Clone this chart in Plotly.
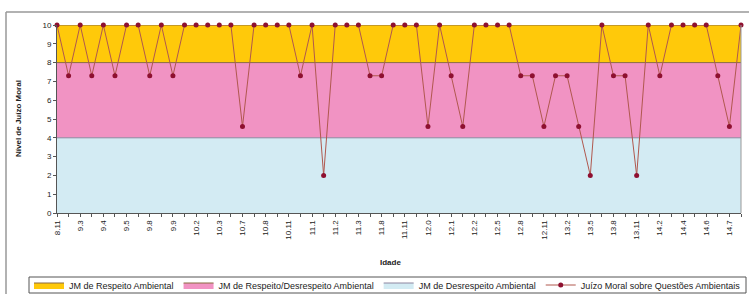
import plotly.graph_objects as go

# ---- data ----
tick_labels = ["8.11", "9.3", "9.4", "9.5", "9.8", "9.9", "10.2", "10.3", "10.7", "10.8",
               "10.11", "11.1", "11.2", "11.3", "11.8", "11.11", "12.0", "12.1", "12.2", "12.5",
               "12.8", "12.11", "13.2", "13.5", "13.8", "13.11", "14.2", "14.4", "14.6", "14.7"]

juizo_moral = [10, 7.3, 10, 7.3, 10, 7.3, 10, 10, 7.3, 10,
               7.3, 10, 10, 10, 10, 10, 4.6, 10, 10, 10,
               10, 7.3, 10, 2, 10, 10, 10, 7.3, 7.3, 10,
               10, 10, 4.6, 10, 7.3, 4.6, 10, 10, 10, 10,
               7.3, 7.3, 4.6, 7.3, 7.3, 4.6, 2, 10, 7.3, 7.3,
               2, 10, 7.3, 10, 10, 10, 10, 7.3, 4.6, 10]

band_names = ["JM de Desrespeito Ambiental", "JM de Respeito/Desrespeito Ambiental", "JM de Respeito Ambiental"]
band_tops = [4, 8, 10]
band_colors = ["#D3EBF3", "#F193C3", "#FFC90A"]
band_lines = ["#8E86A0", "#8A6A40", "#8A6A40"]
line_name = "Juízo Moral sobre Questões Ambientais"

n = len(juizo_moral)
x = list(range(n))

fig = go.Figure()
prev = 0
ranks = [3, 2, 1]
for name, top, col, lc, rk in zip(band_names, band_tops, band_colors, band_lines, ranks):
    fig.add_trace(go.Scatter(
        x=x, y=[top - prev] * n, name=name, stackgroup="bands",
        mode="lines", line=dict(color=lc, width=1), fillcolor=col,
        legendrank=rk, hoverinfo="skip"))
    prev = top

fig.add_trace(go.Scatter(
    x=x, y=juizo_moral, name=line_name, mode="lines+markers",
    line=dict(color="#B0584E", width=1),
    marker=dict(symbol="circle", size=5, color="#8E1030"),
    cliponaxis=False, legendrank=4))

tickvals = x
ticktext = [tick_labels[i // 2] if i % 2 == 0 and i // 2 < len(tick_labels) else "" for i in x]

L, R, T, B = 57, 9, 25, 81
W, H = 750, 294
pw, ph = W - L - R, H - T - B

def px(v):
    return (v - L) / pw

def py(v):
    return (H - B - v) / ph

fig.update_layout(
    width=W, height=H,
    margin=dict(l=L, r=R, t=T, b=B, autoexpand=False),
    paper_bgcolor="white", plot_bgcolor="white",
    font=dict(family="Liberation Sans, Arial, sans-serif", size=8, color="#222"),
    showlegend=True,
    legend=dict(orientation="h", x=px(29), y=py(285), xanchor="left", yanchor="middle",
                borderwidth=0, bgcolor="rgba(0,0,0,0)", traceorder="normal",
                font=dict(size=9), itemwidth=30, tracegroupgap=0),
    xaxis=dict(range=[0, n - 1], tickmode="array", tickvals=tickvals, ticktext=ticktext,
               tickangle=-90, ticks="outside", ticklen=3, tickcolor="#555",
               showline=True, linecolor="#555", linewidth=1, showgrid=False,
               zeroline=False, tickfont=dict(size=8)),
    yaxis=dict(range=[0, 10], dtick=1, ticks="outside", ticklen=3, tickcolor="#555",
               showline=True, linecolor="#555", linewidth=1, showgrid=False,
               zeroline=False, tickfont=dict(size=8)),
    annotations=[
        dict(text="<b>Idade</b>", xref="paper", yref="paper", x=px(390), y=py(262),
             xanchor="center", yanchor="middle", showarrow=False, font=dict(size=8)),
        dict(text="<b>Nível de Juízo Moral</b>", xref="paper", yref="paper", x=px(18), y=py(119),
             xanchor="center", yanchor="middle", showarrow=False, textangle=-90, font=dict(size=8)),
    ],
    shapes=[
        dict(type="line", xref="paper", yref="paper", x0=px(6), x1=px(749), y0=py(12), y1=py(12),
             line=dict(color="#999", width=1.5)),
        dict(type="line", xref="paper", yref="paper", x0=px(6), x1=px(6), y0=py(12), y1=py(294),
             line=dict(color="#999", width=1.5)),
        dict(type="line", xref="paper", yref="paper", x0=1, x1=1, y0=0, y1=1,
             line=dict(color="#999", width=1)),
        dict(type="rect", xref="paper", yref="paper", x0=px(29), x1=px(746), y0=py(277), y1=py(293),
             line=dict(color="#555", width=1), fillcolor="rgba(0,0,0,0)", layer="below"),
    ],
)

fig.write_html("out.html", config={"displayModeBar": False},
               post_script="document.body.style.margin='0';document.body.style.overflow='hidden';")
